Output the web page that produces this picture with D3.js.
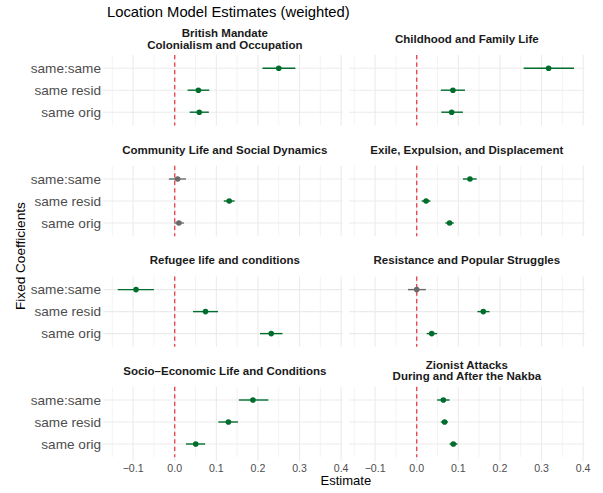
<!DOCTYPE html>
<html><head><meta charset="utf-8">
<script src="https://cdn.jsdelivr.net/npm/d3@7"></script>
<style>body{margin:0;background:#fff;} svg{display:block;font-family:"Liberation Sans",Arial,sans-serif;}</style>
</head><body>
<script>
const topics = [
  ["British Mandate","Colonialism and Occupation"],
  ["Childhood and Family Life"],
  ["Community Life and Social Dynamics"],
  ["Exile, Expulsion, and Displacement"],
  ["Refugee life and conditions"],
  ["Resistance and Popular Struggles"],
  ["Socio\u2013Economic Life and Conditions"],
  ["Zionist Attacks","During and After the Nakba"]
];
const terms = ["same:same","same resid","same orig"];
const estSameSame = [0.250, 0.317, 0.007, 0.128, -0.093, 0.000, 0.188, 0.064];
const loSameSame  = [0.211, 0.257, -0.014, 0.111, -0.137, -0.021, 0.154, 0.049];
const hiSameSame  = [0.290, 0.378, 0.027, 0.144, -0.050, 0.022, 0.225, 0.079];
const estResid    = [0.057, 0.087, 0.131, 0.0225, 0.074, 0.160, 0.129, 0.067];
const loResid     = [0.031, 0.058, 0.118, 0.012, 0.044, 0.146, 0.105, 0.058];
const hiResid     = [0.083, 0.116, 0.144, 0.033, 0.104, 0.175, 0.152, 0.075];
const estOrig     = [0.059, 0.084, 0.010, 0.079, 0.232, 0.036, 0.0505, 0.088];
const loOrig      = [0.036, 0.059, -0.001, 0.069, 0.205, 0.024, 0.027, 0.079];
const hiOrig      = [0.082, 0.111, 0.022, 0.089, 0.259, 0.049, 0.073, 0.098];
const xMajor = [-0.1, 0, 0.1, 0.2, 0.3, 0.4];
const xMinor = [-0.15, -0.05, 0.05, 0.15, 0.25, 0.35];

const W = 603, H = 493;
const svg = d3.select("body").append("svg").attr("width", W).attr("height", H);

const rows = topics.map((t, i) => [
  {term: terms[0], est: estSameSame[i], lo: loSameSame[i], hi: hiSameSame[i]},
  {term: terms[1], est: estResid[i], lo: loResid[i], hi: hiResid[i]},
  {term: terms[2], est: estOrig[i], lo: loOrig[i], hi: hiOrig[i]}
]);

const allLo = d3.min(rows.flat(), d => d.lo), allHi = d3.max(rows.flat(), d => d.hi);
const span = allHi - allLo;
const colX = [107, 349], panelW = 235.7;
const rowY = [55, 165.8, 276.4, 386.8], panelH = 70.4;
const x = d3.scaleLinear().domain([allLo - 0.05*span, allHi + 0.05*span]).range([0, panelW]);
const y = d3.scalePoint().domain(terms).range([0, panelH]).padding(0.6);

const grid = "#ebebeb", green = "#006d2c", grey = "#696969";

topics.forEach((title, i) => {
  const c = i % 2, r = Math.floor(i / 2);
  const g = svg.append("g").attr("transform", `translate(${colX[c]},${rowY[r]})`);
  // minor grid
  g.selectAll(".mn").data(xMinor).join("line")
    .attr("x1", d => x(d)).attr("x2", d => x(d)).attr("y1", 0).attr("y2", panelH)
    .attr("stroke", grid).attr("stroke-width", 0.6);
  g.selectAll(".mj").data(xMajor).join("line")
    .attr("x1", d => x(d)).attr("x2", d => x(d)).attr("y1", 0).attr("y2", panelH)
    .attr("stroke", grid).attr("stroke-width", 1.1);
  g.selectAll(".hy").data(terms).join("line")
    .attr("x1", 0).attr("x2", panelW).attr("y1", d => y(d)).attr("y2", d => y(d))
    .attr("stroke", grid).attr("stroke-width", 1.1);
  // strip
  const lines = title;
  const centers = lines.length === 2 ? [-22, -10.5] : [-16.2];
  lines.forEach((t, k) => {
    g.append("text").attr("x", panelW/2).attr("y", centers[k]).attr("dy", "0.36em")
      .attr("text-anchor", "middle").attr("font-size", 11.5).attr("font-weight", "bold")
      .attr("fill", "#1a1a1a").text(t);
  });
  // vline at 0
  g.append("line").attr("x1", x(0)).attr("x2", x(0)).attr("y1", 0).attr("y2", panelH)
    .attr("stroke", "#e8202a").attr("stroke-opacity", 0.85).attr("stroke-width", 1.3)
    .attr("stroke-dasharray", "4.3,3.2");
  const col = d => (d.lo > 0 || d.hi < 0) ? green : grey;
  g.selectAll(".eb").data(rows[i]).join("line")
    .attr("x1", d => x(d.lo)).attr("x2", d => x(d.hi))
    .attr("y1", d => y(d.term)).attr("y2", d => y(d.term))
    .attr("stroke", col).attr("stroke-width", 1.4);
  g.selectAll(".pt").data(rows[i]).join("circle")
    .attr("cx", d => x(d.est)).attr("cy", d => y(d.term)).attr("r", 2.8)
    .attr("fill", col);
  // y axis
  if (c === 0) {
    g.selectAll(".yt").data(terms).join("line")
      .attr("x1", -3.7).attr("x2", 0).attr("y1", d => y(d)).attr("y2", d => y(d))
      .attr("stroke", grid).attr("stroke-width", 1.1);
    g.selectAll(".yl").data(terms).join("text")
      .attr("x", -6).attr("y", d => y(d)).attr("dy", "0.36em")
      .attr("text-anchor", "end").attr("font-size", 13.6).attr("fill", "#4d4d4d")
      .text(d => d);
  }
  if (r === 3) {
    g.selectAll(".xt").data(xMajor).join("line")
      .attr("x1", d => x(d)).attr("x2", d => x(d)).attr("y1", panelH).attr("y2", panelH + 3.7)
      .attr("stroke", grid).attr("stroke-width", 1.1);
    g.selectAll(".xl").data(xMajor).join("text")
      .attr("x", d => x(d)).attr("y", panelH + 10.5).attr("dy", "0.36em")
      .attr("text-anchor", "middle").attr("font-size", 10.6).attr("fill", "#4d4d4d")
      .text(d => d3.format(".1f")(d).replace("-", "\u2212"));
  }
});

svg.append("text").attr("x", 107).attr("y", 16.5).attr("font-size", 14.8).attr("fill", "#000")
  .text("Location Model Estimates (weighted)");
svg.append("text").attr("x", (colX[0] + colX[1] + panelW)/2).attr("y", 480).attr("dy", "0.36em")
  .attr("text-anchor", "middle").attr("font-size", 13).attr("fill", "#000").text("Estimate");
svg.append("text").attr("transform", `translate(20,${rowY[0] + (rowY[3] + panelH - rowY[0])/2}) rotate(-90)`)
  .attr("dy", "0.36em").attr("text-anchor", "middle").attr("font-size", 13.6).attr("fill", "#000")
  .text("Fixed Coefficients");
</script>
</body></html>
